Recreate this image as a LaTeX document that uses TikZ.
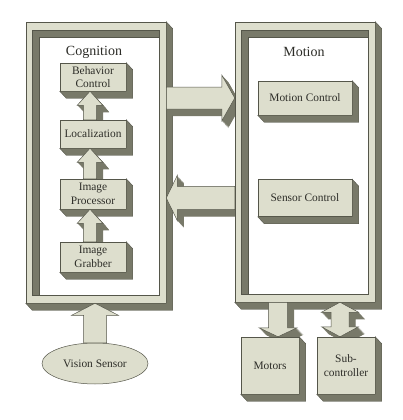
\documentclass[tikz,border=0pt]{standalone}
\usepackage{fontspec}
\setmainfont{Liberation Serif}
\usetikzlibrary{calc,shapes.geometric}
\definecolor{face}{RGB}{221,222,205}
\definecolor{dark}{RGB}{120,121,105}
\definecolor{linec}{RGB}{85,86,74}
\definecolor{txt}{RGB}{45,45,40}
\pgfdeclarelayer{lA}\pgfdeclarelayer{lB}\pgfsetlayers{lA,lB,main}
\newcommand\ddx{6.5}
\newcommand\ddy{7}
\newcommand\bfont{\fontsize{11.4}{13.5}\selectfont}
% arrow geometry: b = direction tip->tail, n = perpendicular, w shaft half, H head half, h head length
\newcommand\setarrow[7]{\def\abx{#1}\def\aby{#2}\def\anx{#3}\def\any{#4}\def\aw{#5}\def\aH{#6}\def\ah{#7}}
\newcommand\arrowshape[2]{($(#1)+\aw*(\anx,\any)$) -- ($(#2)+\ah*(\abx,\aby)+\aw*(\anx,\any)$) -- ($(#2)+\ah*(\abx,\aby)+\aH*(\anx,\any)$) -- (#2) -- ($(#2)+\ah*(\abx,\aby)-\aH*(\anx,\any)$) -- ($(#2)+\ah*(\abx,\aby)-\aw*(\anx,\any)$) -- ($(#1)-\aw*(\anx,\any)$) -- cycle}
\newcommand\darrowshape[2]{(#1) -- ($(#1)-\ah*(\abx,\aby)+\aH*(\anx,\any)$) -- ($(#1)-\ah*(\abx,\aby)+\aw*(\anx,\any)$) -- ($(#2)+\ah*(\abx,\aby)+\aw*(\anx,\any)$) -- ($(#2)+\ah*(\abx,\aby)+\aH*(\anx,\any)$) -- (#2) -- ($(#2)+\ah*(\abx,\aby)-\aH*(\anx,\any)$) -- ($(#2)+\ah*(\abx,\aby)-\aw*(\anx,\any)$) -- ($(#1)-\ah*(\abx,\aby)-\aw*(\anx,\any)$) -- ($(#1)-\ah*(\abx,\aby)-\aH*(\anx,\any)$) -- cycle}
\newcommand\clipband[2]{\clip ($(#1)+500*(\anx,\any)$) -- ($(#1)-500*(\anx,\any)$) -- ($(#2)-500*(\anx,\any)$) -- ($(#2)+500*(\anx,\any)$) -- cycle;}
\newcommand\drawblock[3]{%
  \begin{scope}\clipband{#1}{#2}
    \foreach \k in {1,...,14}{\fill[dark, transform canvas={shift={(\k*\ddx/14,\k*\ddy/14)}}] #3{#1}{#2};}
  \end{scope}
  \filldraw[face, draw=linec, line width=0.5pt] #3{#1}{#2};}
\newcommand\xbox[1]{\filldraw[fill=dark, draw=linec, line width=0.4pt] (#1.north east) -- ++(\ddx,\ddy) -- ($(#1.south east)+(\ddx,\ddy)$) -- ($(#1.south west)+(\ddx,\ddy)$) -- (#1.south west) -- (#1.south east) -- cycle;}
\newcommand\recess[1]{%
  \coordinate (#1-a) at ($(#1.north west)+(6.5,8.5)$);
  \coordinate (#1-b) at ($(#1.south east)+(-7,-8.5)$);
  \filldraw[fill=white, draw=linec, line width=0.5pt] (#1-a) rectangle (#1-b);
  \filldraw[fill=dark, draw=linec, line width=0.4pt] (#1-a) -- (#1-a -| #1-b) -- ++(0,7) -- ($(#1-a)+(7,7)$) -- ($(#1-a |- #1-b)+(7,0)$) -- (#1-a |- #1-b) -- cycle;}
\tikzset{
  box3d/.style={draw=linec, fill=face, line width=0.5pt, text=txt, font=\bfont, align=center, inner sep=0pt},
  frame/.style={draw=linec, fill=face, line width=0.5pt, inner sep=0pt, minimum width=140pt},
  lbl/.style={text=txt, font=\fontsize{14}{16}\selectfont, inner sep=0pt},
  sensor/.style={ellipse, draw=linec, fill=face, line width=0.5pt, text=txt, font=\bfont, inner sep=0pt},
}
\begin{document}
\begin{tikzpicture}[x=1pt, y=-1pt]
\begin{pgfonlayer}{lA}
  \fill[white] (0,0) rectangle (402,420);
  \node[frame, minimum height=281pt] (cog) at (96,162.5) {};
  \xbox{cog}
  \recess{cog}
\end{pgfonlayer}
\useasboundingbox (0,0) rectangle (402,420);
% Motion frame
\node[frame, minimum height=280pt] (mot) at (305,162) {};
\xbox{mot}
\recess{mot}
\node[lbl] (cogl) at (94,52) {Cognition};
\node[lbl] (motl) at (304,52) {Motion};
% cognition boxes
\node[box3d, minimum width=66pt, minimum height=28pt] (beh) at (93,77) {Behavior\\Control};
\xbox{beh}
\node[box3d, minimum width=66pt, minimum height=28pt] (loc) at (93,134) {Localization};
\xbox{loc}
\node[box3d, minimum width=66pt, minimum height=30pt] (proc) at (93,194) {Image\\Processor};
\xbox{proc}
\node[box3d, minimum width=66pt, minimum height=30pt] (grab) at (93,257) {Image\\Grabber};
\xbox{grab}
% motion boxes
\node[box3d, minimum width=94pt, minimum height=34pt] (mc) at (305,98) {Motion Control};
\xbox{mc}
\node[box3d, minimum width=94pt, minimum height=37pt] (sc) at (305,198) {Sensor Control};
\xbox{sc}
% outer devices
\node[sensor, minimum width=106pt, minimum height=41pt] (vis) at (95,363.5) {Vision Sensor};
\node[box3d, minimum width=58pt, minimum height=57pt] (motors) at (270,365.5) {Motors};
\xbox{motors}
\node[box3d, minimum width=58pt, minimum height=57pt] (sub) at (346,365.5) {Sub-\\controller};
\xbox{sub}
% arrow anchor points
\coordinate (a1t) at ($(loc.north)+(-3,0)$);
\coordinate (a1p) at ($(beh.south)+(-3,0)$);
\coordinate (a2t) at ($(proc.north)+(-3,0)$);
\coordinate (a2p) at ($(loc.south)+(-3,0)$);
\coordinate (a3t) at ($(grab.north)+(-3,0)$);
\coordinate (a3p) at ($(proc.south)+(-3,0)$);
\coordinate (vt) at (vis.north);
\coordinate (vp) at (vis.north |- cog.south);
\coordinate (mx) at (278,0);
\coordinate (sx) at (340,0);
\coordinate (mt) at (mot.south -| mx);
\coordinate (mp) at (motors.north -| mx);
\coordinate (st) at (mot.south -| sx);
\coordinate (sp) at (sub.north -| sx);
\coordinate (rt) at (cog.east |- mc.center);
\coordinate (rp) at (mot.west |- mc.center);
\coordinate (lt) at (mot.west |- sc.center);
\coordinate (lp) at (cog.east |- sc.center);
% small upward arrows inside Cognition
\setarrow{0}{1}{-1}{0}{6.7}{12.7}{14}
\drawblock{a1t}{a1p}{\arrowshape}
\drawblock{a2t}{a2p}{\arrowshape}
\drawblock{a3t}{a3p}{\arrowshape}
% vision sensor arrow
\setarrow{0}{1}{-1}{0}{11.5}{23.3}{12}
\filldraw[face, draw=linec, line width=0.5pt] \arrowshape{vt}{vp};
% motors arrow
\setarrow{0}{-1}{1}{0}{9.5}{19}{9}
\drawblock{mt}{mp}{\arrowshape}
% sub-controller double arrow
\setarrow{0}{-1}{1}{0}{9}{18.5}{10}
\drawblock{st}{sp}{\darrowshape}
% horizontal arrows between frames
\begin{pgfonlayer}{lB}
  \setarrow{-1}{0}{0}{1}{11}{23}{13}
  \drawblock{rt}{rp}{\arrowshape}
  \setarrow{1}{0}{0}{1}{11.7}{22.5}{11}
  \drawblock{lt}{lp}{\arrowshape}
\end{pgfonlayer}
\end{tikzpicture}
\end{document}
